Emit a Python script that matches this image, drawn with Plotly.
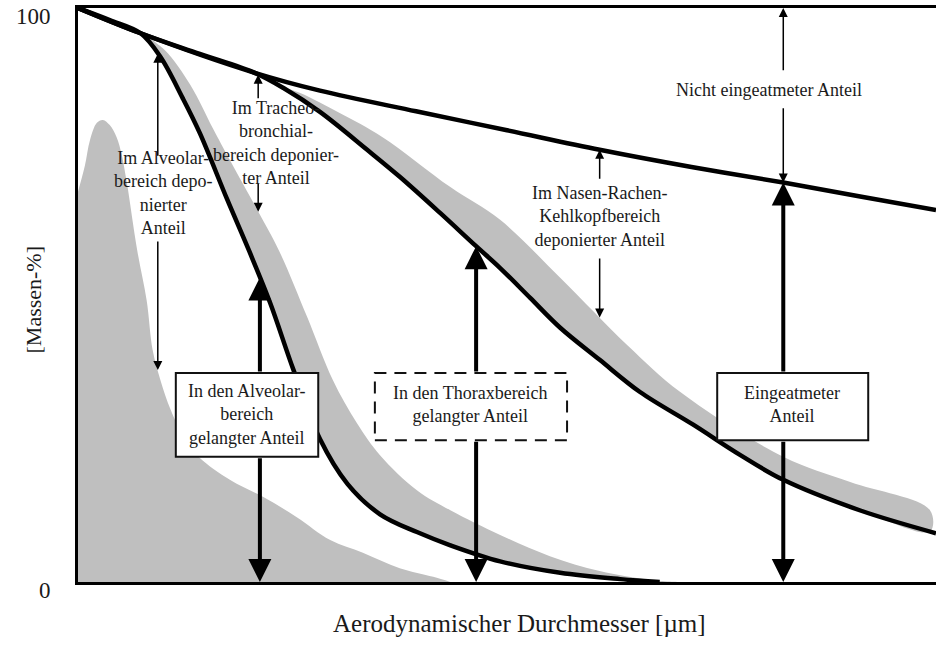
import numpy as np
import plotly.graph_objects as go

# diameter axis is schematic (no ticks in the original), scale 0..100
# Eingeatmeter Anteil (inhalable fraction)
ein_x = [0, 7.3, 20.6, 28.2, 39.4, 50.0, 60.8, 71.5, 82.2, 91.0, 100]
ein_y = [100, 95.6, 88.7, 85.6, 82.0, 78.7, 75.3, 72.3, 69.6, 67.2, 64.8]

# Thorax fraction
tho_x = [0, 7.3, 14.2, 20.6, 23.9, 28.2, 33.7, 37.5, 42.2, 46.4, 49.2, 52.7, 56.2, 60.8, 65.5, 71.7, 77.2, 82.2, 91.1, 100]
tho_y = [100, 95.6, 92.0, 88.7, 86.1, 81.9, 75.3, 70.6, 64.3, 58.5, 54.7, 49.5, 44.3, 38.7, 33.1, 27.4, 22.1, 17.8, 12.5, 8.5]

# Alveolar fraction
alv_x = [0, 3.7, 7.3, 9.6, 12.2, 14.2, 17.4, 20.0, 22.4, 25.1, 28.2, 31.4, 35.2, 39.5, 43.4, 49.2, 56.2, 63.2, 67.8]
alv_y = [100, 97.9, 95.6, 91.5, 84.3, 78.2, 66.6, 57.5, 48.6, 37.0, 24.9, 17.1, 11.8, 8.7, 6.4, 3.6, 1.6, 0.5, 0]

# grey scatter band beside the alveolar curve (upper edge)
alv_band_x = [7.3, 10.1, 13.1, 15.7, 17.7, 20.9, 23.5, 26.7, 29.7, 32.5, 35.2, 39.5, 43.4, 49.2, 55.0, 60.8, 66.7, 70.2]
alv_band_y = [95.6, 92.7, 86.6, 79.1, 73.5, 64.8, 57.5, 46.2, 35.2, 27.7, 22.1, 16.0, 12.5, 8.2, 4.5, 1.9, 0.35, 0]

# grey scatter band beside the thorax curve (upper edge)
tho_band_x = [23.9, 25.9, 30.5, 35.5, 43.4, 49.2, 56.2, 64.0, 70.2, 82.2, 90.0, 99.3]
tho_band_y = [86.2, 85.2, 81.7, 77.5, 68.8, 63.1, 53.0, 41.3, 33.1, 21.8, 17.4, 12.5]

# particle mass distribution on the left
vert_x = [0, 0.8, 1.4, 2.2, 2.9, 3.7, 4.5, 5.1, 5.7, 6.9, 8.0, 8.7, 9.6, 10.8, 12.5, 14.2, 17.7, 21.6, 25.5, 29.4, 33.2, 37.5, 41.4, 43.4]
vert_y = [68.0, 72.5, 77.0, 80.0, 80.5, 79.6, 77.5, 74.4, 69.5, 57.8, 49.1, 40.4, 35.2, 30.0, 24.7, 21.6, 17.8, 14.8, 11.3, 7.3, 5.1, 2.4, 0.9, 0]

GRAY = '#bfbfbf'
SERIF = 'Liberation Serif, Times New Roman, serif'
TXT = '#1a1a1a'


def band_polygon(up_x, up_y, low_x, low_y):
    # closed outline: upper edge left->right, then lower curve back
    low_x = np.array(low_x)
    low_y = np.array(low_y)
    x0, x1 = up_x[0], up_x[-1]
    m = (low_x > x0) & (low_x < x1)
    xs = list(up_x) + [x1] + list(low_x[m][::-1]) + [x0]
    ys = list(up_y) + [np.interp(x1, low_x, low_y)] + list(low_y[m][::-1]) + [np.interp(x0, low_x, low_y)]
    return xs, ys


fig = go.Figure()

fig.add_trace(go.Scatter(x=vert_x, y=vert_y, mode='lines', fill='tozeroy', fillcolor=GRAY,
                         line=dict(width=0, color=GRAY, shape='spline'), hoverinfo='skip'))
for ux, uy, lx, ly in [(alv_band_x, alv_band_y, alv_x, alv_y), (tho_band_x, tho_band_y, tho_x, tho_y)]:
    bx, by = band_polygon(ux, uy, lx, ly)
    fig.add_trace(go.Scatter(x=bx, y=by, mode='lines', fill='toself', fillcolor=GRAY,
                             line=dict(width=0, color=GRAY, shape='spline'), hoverinfo='skip'))

for cx, cy in [(ein_x, ein_y), (tho_x, tho_y), (alv_x, alv_y)]:
    fig.add_trace(go.Scatter(x=cx, y=cy, mode='lines', line=dict(color='black', width=4.5, shape='spline'),
                             hoverinfo='skip'))


def arrow(x, y_tail, y_head, width=1.5, size=1.2):
    fig.add_annotation(x=x, y=y_head, ax=x, ay=y_tail, xref='x', yref='y', axref='x', ayref='y',
                       text='', showarrow=True, arrowhead=2, arrowsize=size, arrowwidth=width,
                       arrowcolor='black', standoff=0)


def label(x, y, text):
    fig.add_annotation(x=x, y=y, xref='x', yref='y', text=text, showarrow=False,
                       font=dict(family=SERIF, size=18, color=TXT))


# thin arrows and their labels
arrow(82.2, 88.9, 100)
arrow(82.2, 82.8, np.interp(82.2, ein_x, ein_y))
label(80.5, 85.7, 'Nicht eingeatmeter Anteil')

arrow(60.8, 70.0, np.interp(60.8, ein_x, ein_y))
arrow(60.8, 56.6, np.interp(60.8, tho_band_x, tho_band_y))
label(60.8, 63.6, 'Im Nasen-Rachen-<br>Kehlkopfbereich<br>deponierter Anteil')

arrow(21.0, 84.0, np.interp(21.0, tho_x, tho_y))
arrow(21.0, 69.7, np.interp(21.0, alv_band_x, alv_band_y))
label(23.1, 76.5, 'Im Tracheo-<br>bronchial-<br>bereich deponier-<br>ter Anteil')

arrow(9.3, 74.0, np.interp(9.3, alv_x, alv_y))
arrow(9.3, 59.6, np.interp(9.3, vert_x, vert_y))
label(9.9, 67.7, 'Im Alveolar-<br>bereich depo-<br>nierter<br>Anteil')

# thick arrows with boxes: (arrow x, box x0, x1, y0, y1, curve, text, text pos, dashed)
boxes = [
    (21.2, 11.4, 28.0, 21.8, 36.4, (alv_x, alv_y), 'In den Alveolar-<br>bereich<br>gelangter Anteil', (19.7, 29.1), False),
    (46.4, 34.6, 57.0, 24.7, 36.4, (tho_x, tho_y), 'In den Thoraxbereich<br>gelangter Anteil', (45.8, 30.9), True),
    (82.2, 74.5, 92.1, 24.7, 36.4, (ein_x, ein_y), 'Eingeatmeter<br>Anteil', (83.2, 30.9), False),
]
for ax_, x0, x1, y0, y1, (cx, cy), txt, (tx, ty), dashed in boxes:
    arrow(ax_, y1, np.interp(ax_, cx, cy), width=4, size=1.15)
    arrow(ax_, y0, 0, width=4, size=1.15)
    fig.add_shape(type='rect', x0=x0, x1=x1, y0=y0, y1=y1, xref='x', yref='y', fillcolor='white',
                  line=dict(color='#111111', width=2, dash='12px,8px' if dashed else 'solid'), layer='above')
    label(tx, ty, txt)

# axis titles
fig.add_annotation(x=0.5, y=0, xref='paper', yref='paper', yshift=-57, xshift=12,
                   text='Aerodynamischer Durchmesser [µm]', showarrow=False,
                   font=dict(family=SERIF, size=25, color=TXT))
fig.add_annotation(x=0, y=0.5, xref='paper', yref='paper', xshift=-60, yshift=-5, textangle=-90,
                   text='[Massen-%]', showarrow=False, font=dict(family=SERIF, size=22, color=TXT))

fig.update_xaxes(range=[0, 100], showline=True, linecolor='black', linewidth=3, mirror=True,
                 showgrid=False, zeroline=False, showticklabels=False, ticks='')
fig.update_yaxes(range=[0, 100], showline=True, linecolor='black', linewidth=3,
                 showgrid=False, zeroline=False, ticks='', tickvals=[0, 100], ticktext=['0', '100'],
                 tickfont=dict(family=SERIF, size=23, color=TXT), ticklabelstandoff=20, ticklabelshift=8)
fig.update_layout(width=936, height=654, margin=dict(l=78, r=0, t=8, b=72),
                  plot_bgcolor='white', paper_bgcolor='white', showlegend=False)

# page body has a default 8px margin; drop it so the figure fills the window
fig.write_html("out.html", config={'displayModeBar': False},
               post_script="document.body.style.margin='0';")
